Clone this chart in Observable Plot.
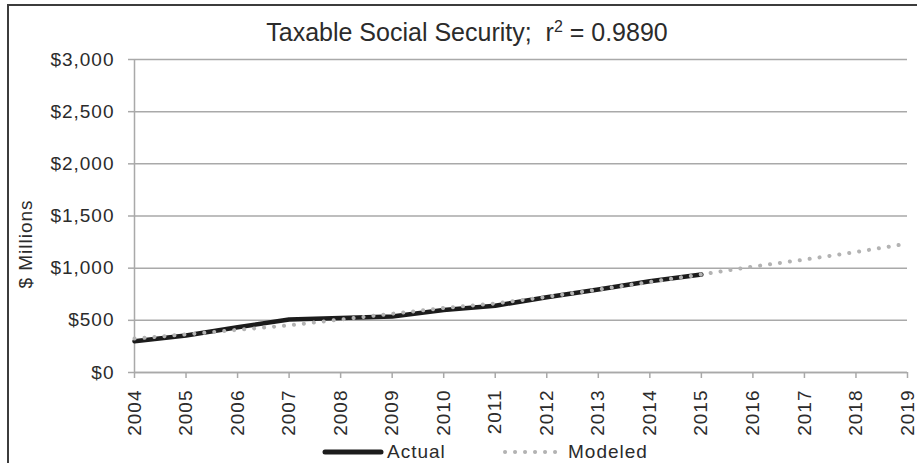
<!DOCTYPE html>
<html>
<head>
<meta charset="utf-8">
<script src="https://cdn.jsdelivr.net/npm/d3@7"></script>
<script src="https://cdn.jsdelivr.net/npm/@observablehq/plot@0.6"></script>
<style>
  html, body { margin: 0; padding: 0; background: #fff; overflow: hidden; }
  #wrap { position: relative; width: 917px; height: 463px; overflow: hidden; font-family: "Liberation Sans", Arial, sans-serif; color: #2b2b2b; }
  #frame { position: absolute; left: 7px; top: 4px; width: 930px; height: 480px; border: 2px solid #3c3c3c; box-sizing: border-box; }
  #title { position: absolute; left: 0; top: 0; width: 917px; height: 50px; padding-left: 17px; box-sizing: border-box; text-align: center; font-size: 25px; line-height: 64px; }
  #title sup { font-size: 16px; vertical-align: 0; position: relative; top: -9px; }
  #chart { position: absolute; left: 0; top: 50px; }
  #chart svg text { letter-spacing: 1px; }
  #legend { position: absolute; left: 0; top: 440px; width: 917px; height: 23px; font-size: 19px; letter-spacing: 1px; }
  .item { position: absolute; top: 0; height: 23px; display: flex; align-items: center; }
  .item svg { display: block; }
</style>
</head>
<body>
<div id="wrap">
  <div id="frame"></div>
  <div id="title">Taxable Social Security;&nbsp; r<sup>2</sup> = 0.9890</div>
  <div id="chart"></div>
  <div id="legend"></div>
</div>
<script>
// Data
const years = [2004, 2005, 2006, 2007, 2008, 2009, 2010, 2011, 2012, 2013, 2014, 2015, 2016, 2017, 2018, 2019];
const actual = [300, 355, 434, 508, 522, 537, 600, 640, 722, 795, 875, 940];
const modeled = [325, 365, 409, 452, 508, 563, 618, 662, 725, 795, 868, 940, 1015, 1082, 1155, 1235];
const yTicks = [0, 500, 1000, 1500, 2000, 2500, 3000];
const seriesNames = ["Actual", "Modeled"];

const actualData = actual.map((v, i) => ({year: years[i], value: v}));
const modeledData = modeled.map((v, i) => ({year: years[i], value: v}));

const gridColor = "#a9a9a9";
const textColor = "#2b2b2b";
const actualColor = "#1c1c1c";
const modeledColor = "#b3b3b3";

const chart = Plot.plot({
  width: 917,
  height: 390,
  marginLeft: 134,
  marginRight: 10,
  marginTop: 9,
  marginBottom: 68,
  style: { fontFamily: "Liberation Sans, Arial, sans-serif", fontSize: "19px", color: textColor, background: "transparent", overflow: "visible" },
  x: { domain: [2004, 2019] },
  y: { domain: [0, 3000] },
  marks: [
    Plot.gridY(yTicks, { stroke: gridColor, strokeOpacity: 1, strokeWidth: 1.5 }),
    Plot.axisY(yTicks, {
      tickSize: 6, tickPadding: 14, stroke: gridColor, strokeWidth: 1.5,
      tickFormat: d => "$" + d3.format(",")(d),
      fill: textColor, fontSize: 19, label: null
    }),
    Plot.ruleX([2004], { stroke: gridColor, strokeWidth: 1.5 }),
    Plot.ruleY([0], { stroke: gridColor, strokeWidth: 1.5 }),
    Plot.axisX(years, {
      tickSize: 6, tickPadding: 11, stroke: gridColor, strokeWidth: 1.5,
      tickRotate: -90, tickFormat: d => String(d), fill: textColor, fontSize: 19, label: null
    }),
    Plot.line(actualData, { x: "year", y: "value", stroke: actualColor, strokeWidth: 4.5, strokeLinejoin: "round" }),
    Plot.line(modeledData, { x: "year", y: "value", stroke: modeledColor, strokeWidth: 4, strokeLinecap: "round", strokeDasharray: "0.1,9.9" }),
    Plot.text(["$ Millions"], {
      frameAnchor: "left", textAnchor: "middle", dx: -109, dy: 28, rotate: -90, fill: textColor, fontSize: 19
    })
  ]
});
document.getElementById("chart").appendChild(chart);

// Legend
const legend = document.getElementById("legend");
const items = [
  { name: seriesNames[0], left: 322, w: 62, stroke: actualColor, width: 5, dash: null, textGap: 3 },
  { name: seriesNames[1], left: 502, w: 58, stroke: modeledColor, width: 4, dash: "0.1,9.9", textGap: 8 }
];
items.forEach(it => {
  const div = document.createElement("div");
  div.className = "item";
  div.style.left = it.left + "px";
  const ns = "http://www.w3.org/2000/svg";
  const s = document.createElementNS(ns, "svg");
  s.setAttribute("width", it.w);
  s.setAttribute("height", 12);
  const l = document.createElementNS(ns, "line");
  l.setAttribute("x1", 3); l.setAttribute("x2", it.w - 3);
  l.setAttribute("y1", 6); l.setAttribute("y2", 6);
  l.setAttribute("stroke", it.stroke);
  l.setAttribute("stroke-width", it.width);
  l.setAttribute("stroke-linecap", "round");
  if (it.dash) l.setAttribute("stroke-dasharray", it.dash);
  s.appendChild(l);
  div.appendChild(s);
  const sp = document.createElement("span");
  sp.textContent = it.name;
  sp.style.marginLeft = it.textGap + "px";
  div.appendChild(sp);
  legend.appendChild(div);
});
</script>
</body>
</html>
